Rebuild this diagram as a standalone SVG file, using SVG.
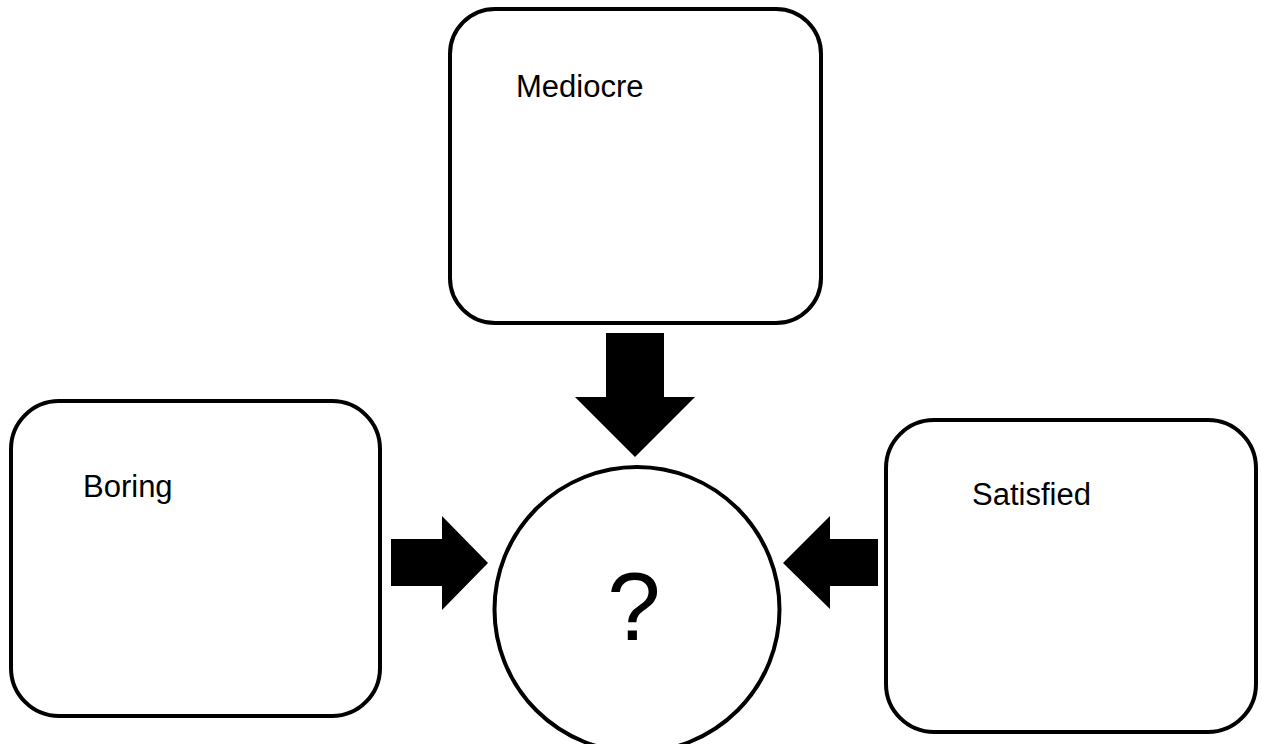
<svg xmlns="http://www.w3.org/2000/svg" width="1262" height="744" viewBox="0 0 1262 744">
<style>
.box{fill:#fff;stroke:#000;stroke-width:4}
.lbl{font-family:"Liberation Sans",Arial,sans-serif;font-size:31px;fill:#000}
.arrow{fill:#000;stroke:none}
</style>
<rect width="1262" height="744" fill="#fff"/>
<g id="mediocre">
<rect class="box" x="450" y="9" width="371" height="314" rx="45" ry="45"/>
<text class="lbl" x="516" y="97">Mediocre</text>
</g>
<g id="boring">
<rect class="box" x="11" y="401" width="369" height="315" rx="48" ry="48"/>
<text class="lbl" x="83" y="497">Boring</text>
</g>
<g id="satisfied">
<rect class="box" x="886" y="420" width="370" height="312" rx="48" ry="48"/>
<text class="lbl" x="972" y="505">Satisfied</text>
</g>
<g id="question">
<circle class="box" cx="637" cy="609.5" r="142.5"/>
<text x="634" y="640" text-anchor="middle" style="font-family:'Liberation Sans',Arial,sans-serif;font-size:96px;fill:#000">?</text>
</g>
<g id="connectors">
<polygon class="arrow" points="606,333 664,333 664,397 695,397 635,457 575,397 606,397"/>
<polygon class="arrow" points="391,539 442,539 442,516 488,563 442,610 442,586 391,586"/>
<polygon class="arrow" points="878,539 830,539 830,516 783,563 830,609 830,586 878,586"/>
</g>
</svg>
